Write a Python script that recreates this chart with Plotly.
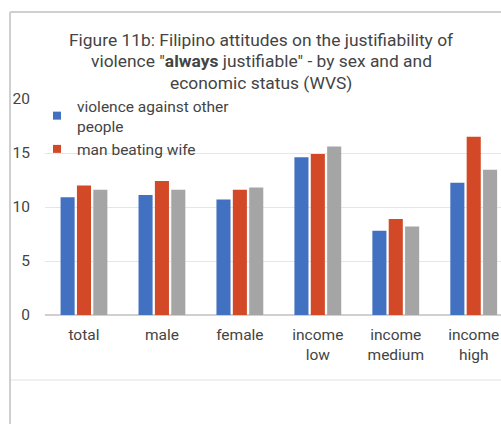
import plotly.graph_objects as go

categories = ["total", "male", "female", "income<br>low", "income<br>medium", "income<br>high"]
violence_other = [10.9, 11.1, 10.7, 14.6, 7.8, 12.25]
wife_beating = [12.0, 12.4, 11.6, 14.9, 8.9, 16.5]
third_series = [11.6, 11.6, 11.8, 15.6, 8.2, 13.45]
y_ticks = [0, 5, 10, 15, 20]

W, H = 501, 424
L, T, B = 45, 99, 109
PW = W - L
PH = H - T - B

BLUE, RED, GRAY = "#4371C1", "#D34826", "#A5A5A5"
TXT = "#444444"
FONT = "Roboto"

def px_x(px):
    return (px - L) / PW

def px_y(py):
    return (H - B - py) / PH

fig = go.Figure()
fig.add_trace(go.Bar(x=categories, y=violence_other, name="violence against other<br>people",
                     showlegend=False, marker=dict(color=BLUE, line=dict(width=0))))
fig.add_trace(go.Bar(x=categories, y=wife_beating, name="man beating wife",
                     showlegend=False, marker=dict(color=RED, line=dict(width=0))))
fig.add_trace(go.Bar(x=categories, y=third_series, name="other", showlegend=False,
                     marker=dict(color=GRAY, line=dict(width=0))))
# legend entries
fig.add_trace(go.Scatter(x=[None], y=[None], mode="markers", name="violence against other<br>people",
                         marker=dict(symbol="square", size=8, color=BLUE)))
fig.add_trace(go.Scatter(x=[None], y=[None], mode="markers", name="man beating wife",
                         marker=dict(symbol="square", size=8, color=RED)))

title_lines = [
    "Figure 11b: Filipino attitudes on the justifiability of",
    "violence \"<b>always</b> justifiable\" - by sex and and",
    "economic status (WVS)",
]
annotations = []
for i, t in enumerate(title_lines):
    annotations.append(dict(text=t, xref="paper", yref="paper", x=px_x(261), y=px_y(40 + 21.5 * i),
                            xanchor="center", yanchor="middle", showarrow=False,
                            font=dict(family=FONT, size=17.4, color=TXT)))

shapes = [
    dict(type="line", xref="paper", yref="paper", x0=px_x(10), x1=px_x(10), y0=px_y(12), y1=px_y(430),
         line=dict(color="#cfcfcf", width=2)),
    dict(type="line", xref="paper", yref="paper", x0=px_x(10), x1=px_x(510), y0=px_y(12), y1=px_y(12),
         line=dict(color="#cfcfcf", width=2)),
    dict(type="line", xref="paper", yref="paper", x0=px_x(11), x1=px_x(510), y0=px_y(380), y1=px_y(380),
         line=dict(color="#e2e2e2", width=1)),
]

fig.update_layout(
    width=W, height=H,
    margin=dict(l=L, r=0, t=T, b=B, pad=0),
    paper_bgcolor="white", plot_bgcolor="white",
    barmode="group", bargap=0.37, bargroupgap=0.14,
    font=dict(family=FONT, size=15, color=TXT),
    showlegend=True,
    legend=dict(x=px_x(37), y=px_y(89), xanchor="left", yanchor="top",
                font=dict(family=FONT, size=15.5, color=TXT),
                bgcolor="rgba(0,0,0,0)", itemwidth=30, tracegroupgap=0),
    annotations=annotations,
    shapes=shapes,
    xaxis=dict(range=[-0.5, 5.35], showgrid=False, ticks="", showline=False,
               tickfont=dict(family=FONT, size=15.5, color=TXT), ticklabelstandoff=8),
    yaxis=dict(range=[0, 20], tickvals=y_ticks, showgrid=True, gridcolor="#e6e6e6", gridwidth=1,
               zeroline=True, zerolinecolor="#d0d0d0", zerolinewidth=1.5, ticks="",
               tickfont=dict(family=FONT, size=15.5, color=TXT), ticklabelstandoff=14),
)

fig.write_html("out.html", config={"displayModeBar": False},
               post_script="document.body.style.margin='0';document.body.style.overflow='hidden';")
